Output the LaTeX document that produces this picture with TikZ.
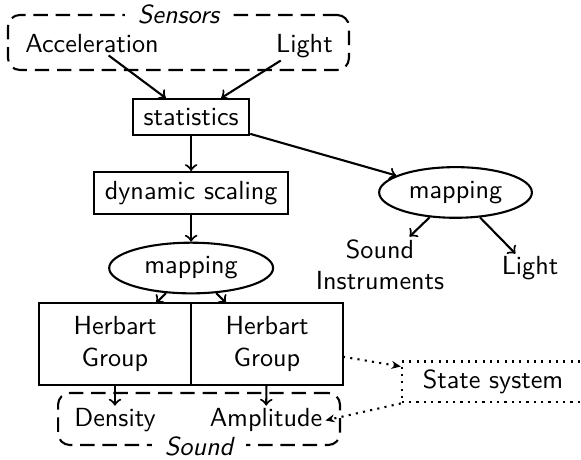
\documentclass[tikz,border=0pt]{standalone}
\usetikzlibrary{arrows.meta,positioning,shapes.geometric}

\begin{document}
\begin{tikzpicture}[font=\sffamily,>=to,
  box/.style={draw,thick,inner xsep=4pt,inner ysep=3.5pt},
  oval/.style={draw,thick,ellipse,inner sep=0pt,minimum width=2.05cm,minimum height=0.68cm},
  herb/.style={draw,thick,align=center,minimum width=2.04cm,minimum height=1.1cm,outer sep=0pt},
  plain/.style={inner sep=1pt,anchor=base},
  group/.style={draw,thick,dash pattern=on 5.5pt off 3pt,rounded corners=4.5pt},
  grouplabel/.style={fill=white,font=\sffamily\itshape,inner xsep=5pt,inner ysep=1pt},
  flow/.style={->,thick},
  link/.style={-{Stealth[length=3.5pt,width=3pt]},thick,dotted}]
  \useasboundingbox (0,0) rectangle (7.797,-6.160);

  % sensor group
  \node[group,minimum width=4.576cm,minimum height=0.738cm] (sensors) at (2.395,-0.570) {};
  \node[grouplabel] (sensorslabel) at (sensors.north) {Sensors};
  \node[plain] (accel) at (1.235,-0.698) {Acceleration};
  \node[plain] (lightin) at (4.086,-0.698) {Light};

  \node[box] (stats) at (2.565,-1.570) {statistics};
  \node[box] (dyn) at (2.565,-2.590) {dynamic scaling};
  \node[oval,minimum width=2.2cm] (map1) at (2.565,-3.597) {mapping};
  \node[oval] (map2) at (6.113,-2.583) {mapping};

  \node[inner sep=1pt,align=center] (instr) at (5.100,-3.556) {Sound\\Instruments};
  \node[plain] (lightout) at (7.113,-3.690) {Light};

  \node[herb] (herbL) at (1.543,-4.616) {Herbart\\Group};
  \node[herb,right=0pt of herbL] (herbR) {Herbart\\Group};

  % sound group
  \node[group,minimum width=3.784cm,minimum height=0.698cm] (sound) at (2.671,-5.623) {};
  \node[grouplabel] (soundlabel) at (sound.south) {Sound};
  \node[plain] (density) at (1.543,-5.730) {Density};
  \node[plain] (amp) at (3.570,-5.730) {Amplitude};

  \node[draw,thick,dotted,inner xsep=8pt,inner ysep=3.2pt] (state) at (6.616,-5.126) {State system};

  \draw[flow] (accel) -- (stats);
  \draw[flow] (lightin) -- (stats);
  \draw[flow] (stats) -- (dyn);
  \draw[flow] (stats) -- (map2);
  \draw[flow] (dyn) -- (map1);
  \draw[flow] (map1) -- (herbL);
  \draw[flow] (map1) -- (herbR);
  \draw[flow] (map2) -- (instr);
  \draw[flow] (map2) -- (lightout);
  \draw[flow] (herbL) -- (density);
  \draw[flow] (herbR) -- (amp);
  \draw[link] (herbR) -- (state);
  \draw[link] (state.south west) -- (amp.east);
\end{tikzpicture}
\end{document}
